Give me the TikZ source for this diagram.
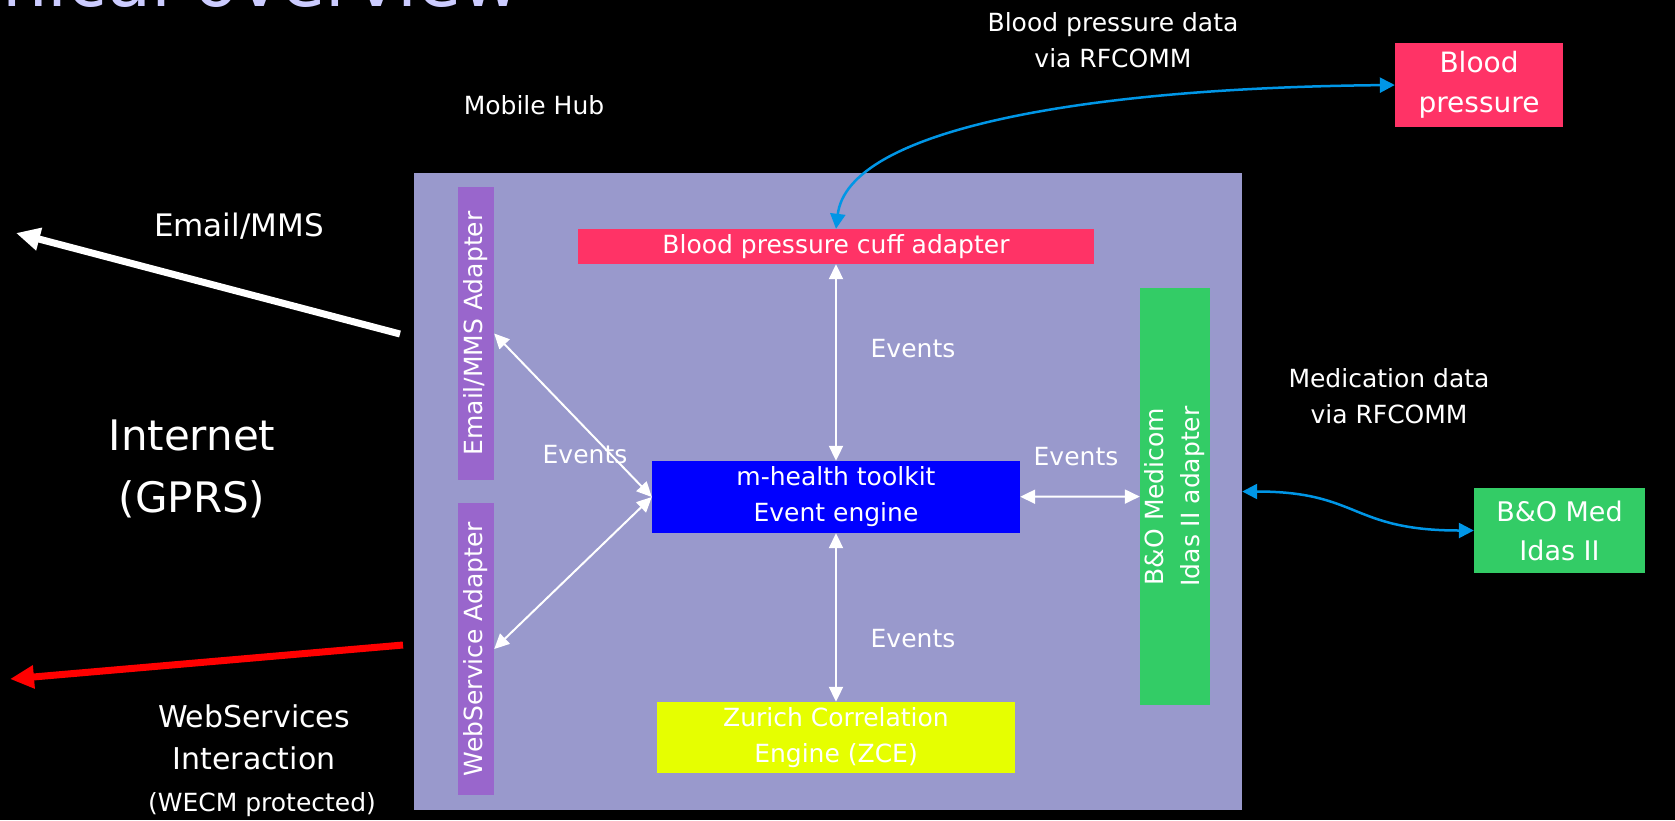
\documentclass[tikz,border=0pt]{standalone}
\usepackage{fontspec}
\setmainfont{DejaVu Sans}
\usetikzlibrary{arrows.meta}

\definecolor{hubgray}{HTML}{9999CC}
\definecolor{adpurple}{HTML}{9966CC}
\definecolor{cuffpink}{HTML}{FF3366}
\definecolor{engblue}{HTML}{0000FF}
\definecolor{zceyellow}{HTML}{E6FF00}
\definecolor{medgreen}{HTML}{33CC66}
\definecolor{linkblue}{HTML}{0096E6}
\definecolor{titlelav}{HTML}{CCCCFF}

\begin{document}
\begin{tikzpicture}[x=1pt, y=-1pt,
		txt/.style={text=white, align=center, font=\fontsize{25}{36}\selectfont},
		block/.style={txt, inner sep=0pt},
		evt/.style={{Triangle[length=15pt,width=14pt]}-{Triangle[length=15pt,width=14pt]}, white, line width=2pt},
		link/.style={{Triangle[length=15pt,width=15pt]}-{Triangle[length=15pt,width=15pt]}, linkblue, line width=2.5pt},
		fat/.style={-{Triangle[length=24pt,width=22pt]}, line width=7pt}]

		\useasboundingbox (0,0) rectangle (1675,820);
		\fill[black] (0,0) rectangle (1675,820);
		\clip (0,0) rectangle (1675,820);

		\node [anchor=base east, inner sep=0pt, text=titlelav, font=\fontsize{72}{80}\selectfont] (title) at (521,6) {Technical overview};

		\node [fill=hubgray, minimum width=828pt, minimum height=637pt, inner sep=0pt] (hub) at (828,491.5) {};
		\node [txt] (hublbl) at (534,105) {Mobile Hub};

		\node [block, fill=adpurple, rotate=90, minimum width=293pt, minimum height=36pt] (mailad) at (476,333.5) {Email/MMS Adapter};
		\node [block, fill=adpurple, rotate=90, minimum width=292pt, minimum height=36pt] (wsad) at (476,649) {WebService Adapter};
		\node [block, fill=cuffpink, minimum width=516pt, minimum height=35pt] (cuff) at (836,246.5) {Blood pressure cuff adapter};
		\node [block, fill=engblue, minimum width=368pt, minimum height=72pt] (engine) at (836,497) {m-health toolkit\\Event engine};
		\node [block, fill=zceyellow, minimum width=358pt, minimum height=71pt] (zce) at (836,737.5) {Zurich Correlation\\Engine (ZCE)};
		\node [block, fill=medgreen, rotate=90, minimum width=417pt, minimum height=70pt] (medad) at (1175,496.5) {B\&O Medicom\\Idas II adapter};

		\node [block, fill=cuffpink, minimum width=168pt, minimum height=84pt, font=\fontsize{28}{40}\selectfont] (bpdev) at (1479,85) {Blood\\pressure};
		\node [block, fill=medgreen, minimum width=171pt, minimum height=85pt, font=\fontsize{27}{39}\selectfont] (meddev) at (1559.5,530.5) {B\&O Med\\Idas II};

		\node [txt] (bplbl) at (1113,40) {Blood pressure data\\via RFCOMM};
		\node [txt] (medlbl) at (1389,396) {Medication data\\via RFCOMM};
		\node [txt, font=\fontsize{31}{40}\selectfont] (maillbl) at (239,226) {Email/MMS};
		\node [txt, font=\fontsize{42}{62}\selectfont] (netlbl) at (192,469) {Internet\\(GPRS)};
		\node [txt, font=\fontsize{30}{42}\selectfont] (wslbl) at (254,737) {WebServices\\Interaction};
		\node [txt] (wecmlbl) at (262,805) {(WECM protected)};

		\node [txt] (ev1) at (913,349) {Events};
		\node [txt] (ev2) at (913,639) {Events};
		\node [txt] (ev3) at (1076,457) {Events};
		\node [txt] (ev4) at (585,455) {Events};

		\draw [evt] (cuff) -- (engine);
		\draw [evt] (engine) -- (zce);
		\draw [evt] (engine) -- (medad);
		\draw [evt] (mailad.south) -- (engine.west);
		\draw [evt] (wsad.south) -- (engine.west);

		\draw [link] (cuff.north) .. controls (848,130) and (1080,88) .. (bpdev.west);
		\draw [link] (hub.east) .. controls (1360,491.5) and (1350,530.5) .. (meddev.west);

		\coordinate (mailstart) at (400,334);
		\coordinate (mailend) at (16,233);
		\coordinate (wsstart) at (403,645);
		\coordinate (wsend) at (10,679);
		\draw [fat, white] (mailstart) -- (mailend);
		\draw [fat, red] (wsstart) -- (wsend);

	\end{tikzpicture}
\end{document}
